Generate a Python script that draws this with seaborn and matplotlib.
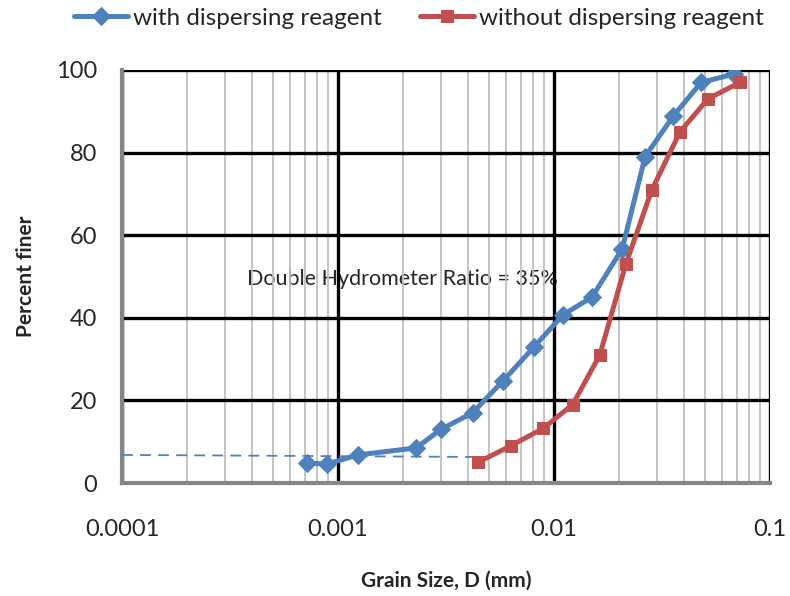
import numpy as np
import pandas as pd
import matplotlib
matplotlib.use("Agg")
import matplotlib.pyplot as plt
import seaborn as sns
from matplotlib.ticker import FixedLocator, FixedFormatter, NullFormatter

# grain size (mm) and percent finer
d_with = [0.00072, 0.00089, 0.00124, 0.0023, 0.0030, 0.0042, 0.0058, 0.0081,
          0.0110, 0.0150, 0.0207, 0.0264, 0.0356, 0.0480, 0.0681]
p_with = [4.8, 4.6, 6.8, 8.5, 13.0, 17.0, 24.7, 33.0, 40.7, 45.0, 56.7, 79.0,
          88.8, 97.0, 99.0]

d_without = [0.00445, 0.0063, 0.0089, 0.0122, 0.0163, 0.0215, 0.0284, 0.0383,
             0.0516, 0.0726]
p_without = [5.0, 9.0, 13.2, 19.0, 31.0, 53.0, 71.0, 85.0, 93.0, 97.0]

# extrapolated trend line (dashed)
d_trend = [0.0001, 0.0045]
p_trend = [6.8, 6.3]

x_ticks = [0.0001, 0.001, 0.01, 0.1]
x_labels = ["0.0001", "0.001", "0.01", "0.1"]
y_ticks = [0, 20, 40, 60, 80, 100]

blue = "#4F81BD"
red = "#C0504D"
axis_grey = "#868686"

sns.set_style("white")
plt.rcParams["font.family"] = ["Lato", "DejaVu Sans"]

df_with = pd.DataFrame({"d": d_with, "p": p_with})
df_without = pd.DataFrame({"d": d_without, "p": p_without})
df_trend = pd.DataFrame({"d": d_trend, "p": p_trend})

fig = plt.figure(figsize=(7.9, 5.96), dpi=100)
ax = fig.add_axes([122 / 790, 1 - 483 / 596, 648 / 790, 413 / 596])

sns.lineplot(data=df_with, x="d", y="p", ax=ax, color=blue, lw=3.6,
             marker="D", markersize=9, markeredgecolor=blue, sort=False,
             label="with dispersing reagent", zorder=4)
sns.lineplot(data=df_without, x="d", y="p", ax=ax, color=red, lw=3.6,
             marker="s", markersize=9, markeredgecolor=red, sort=False,
             label="without dispersing reagent", zorder=4)
sns.lineplot(data=df_trend, x="d", y="p", ax=ax, color=blue, lw=1.3,
             linestyle=(0, (6, 4)), sort=False, zorder=3, legend=False)

ax.set_xscale("log")
ax.set_xlim(0.0001, 0.1)
ax.set_ylim(0, 100)

ax.xaxis.set_major_locator(FixedLocator(x_ticks))
ax.xaxis.set_major_formatter(FixedFormatter(x_labels))
ax.xaxis.set_minor_locator(FixedLocator(
    [m * 10.0 ** e for e in (-4, -3, -2) for m in range(2, 10)]))
ax.xaxis.set_minor_formatter(NullFormatter())
ax.set_yticks(y_ticks)

ax.set_axisbelow(False)
ax.grid(True, which="major", axis="both", color="black", lw=2.4, zorder=2.5)
ax.grid(True, which="minor", axis="x", color="#BFBFBF", lw=1.3, zorder=2.4)

for s in ("top", "right"):
    ax.spines[s].set_visible(False)
for s in ("left", "bottom"):
    ax.spines[s].set_color(axis_grey)
    ax.spines[s].set_linewidth(3)
    ax.spines[s].set_zorder(2.6)

ax.tick_params(axis="both", which="major", direction="out", length=6,
               width=2.5, color=axis_grey, labelsize=17, pad=12)
ax.tick_params(axis="x", which="major", pad=20)
ax.tick_params(axis="x", which="minor", length=0)

ax.set_xlabel("Grain Size, D (mm)", fontsize=15, fontweight="bold", labelpad=22)
ax.set_ylabel("Percent finer", fontsize=15, fontweight="bold", labelpad=14)

ax.text(0.00038, 49.5, "Double Hydrometer Ratio = 35%", fontsize=15.5,
        va="center", ha="left", zorder=1)

leg = ax.legend(loc="lower center", bbox_to_anchor=(0.458, 1.10), ncol=2,
                frameon=False, fontsize=17.5, handlelength=2.2,
                columnspacing=1.6, handletextpad=0.2, borderaxespad=0.0,
                borderpad=0.0)

fig.savefig("out.png", dpi=100)
